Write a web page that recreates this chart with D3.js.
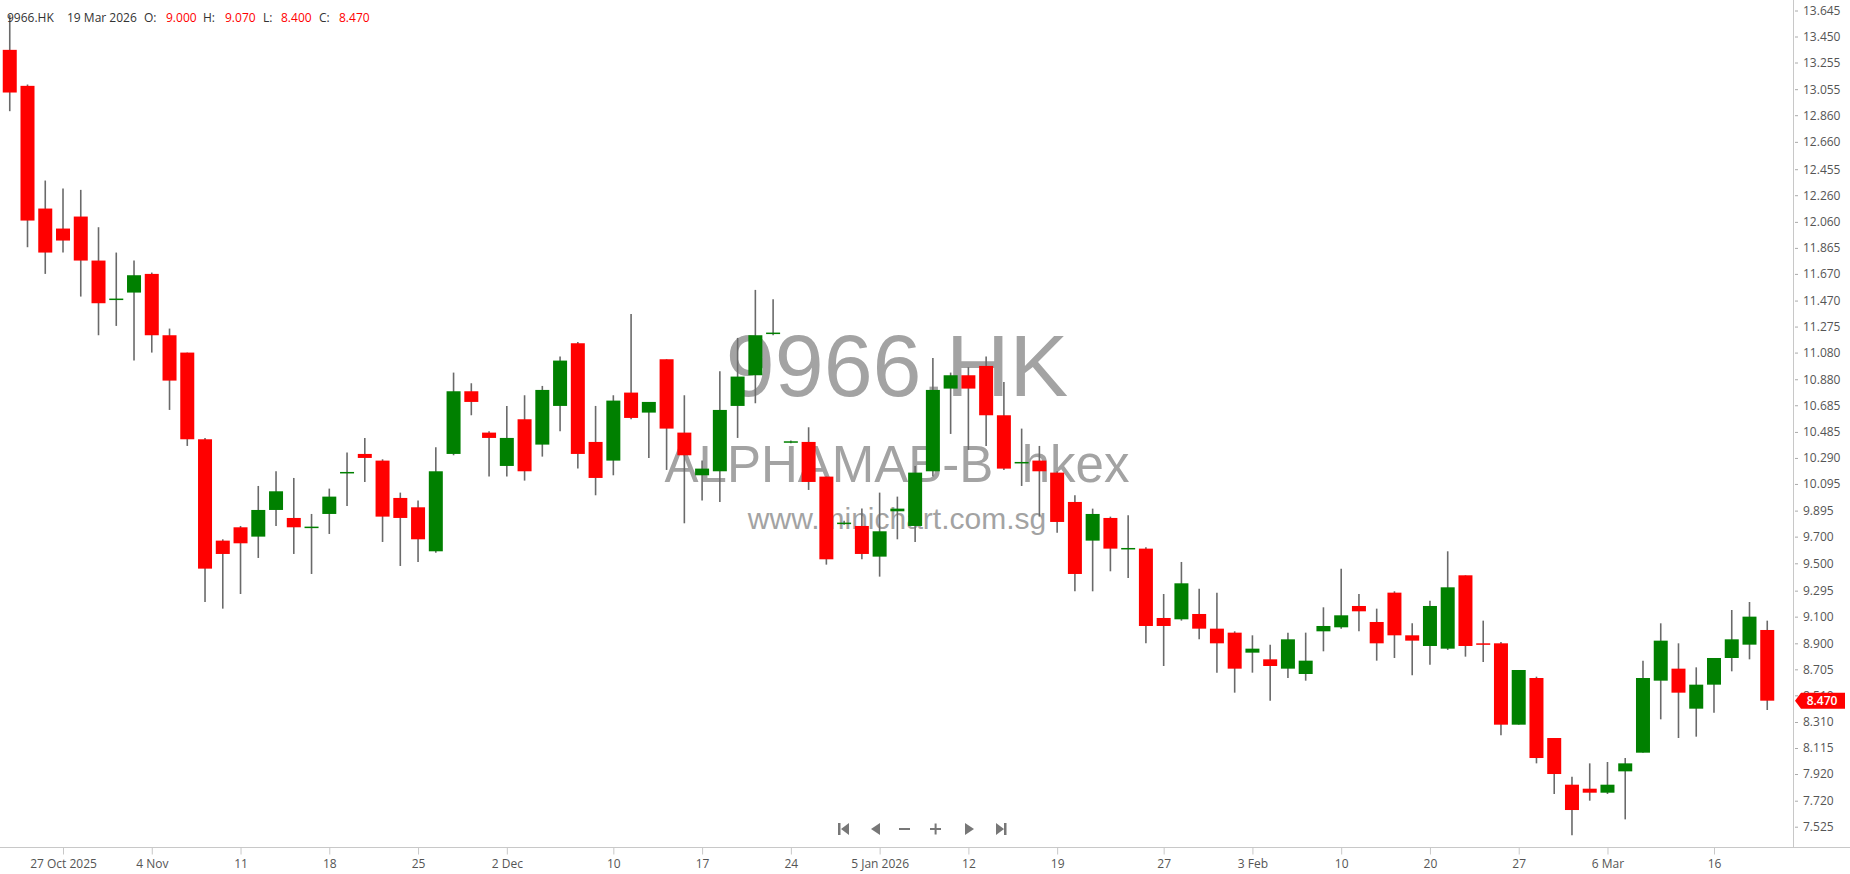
<!DOCTYPE html>
<html lang="en">
<head>
<meta charset="utf-8">
<title>9966.HK</title>
<script src="https://cdn.jsdelivr.net/npm/d3@7"></script>
<style>
  body { margin: 0; background: #fff; }
  svg { display: block; font-family: "Open Sans", sans-serif; }
</style>
</head>
<body>
<div id="chart"></div>
<script>
// trading days, 22 Oct 2025 - 19 Mar 2026
var dates = [
  "2025-10-22","2025-10-23","2025-10-24","2025-10-27","2025-10-28","2025-10-30","2025-10-31",
  "2025-11-03","2025-11-04","2025-11-05","2025-11-06","2025-11-07","2025-11-10","2025-11-11",
  "2025-11-12","2025-11-13","2025-11-14","2025-11-17","2025-11-18","2025-11-19","2025-11-20",
  "2025-11-21","2025-11-24","2025-11-25","2025-11-26","2025-11-27","2025-11-28",
  "2025-12-01","2025-12-02","2025-12-03","2025-12-04","2025-12-05","2025-12-08","2025-12-09",
  "2025-12-10","2025-12-11","2025-12-12","2025-12-15","2025-12-16","2025-12-17","2025-12-18",
  "2025-12-19","2025-12-22","2025-12-23","2025-12-24","2025-12-29","2025-12-30","2025-12-31",
  "2026-01-02","2026-01-05","2026-01-06","2026-01-07","2026-01-08","2026-01-09","2026-01-12",
  "2026-01-13","2026-01-14","2026-01-15","2026-01-16","2026-01-19","2026-01-20","2026-01-21",
  "2026-01-22","2026-01-23","2026-01-26","2026-01-27","2026-01-28","2026-01-29","2026-01-30",
  "2026-02-02","2026-02-03","2026-02-04","2026-02-05","2026-02-06","2026-02-09","2026-02-10",
  "2026-02-11","2026-02-12","2026-02-13","2026-02-16","2026-02-20","2026-02-23","2026-02-24",
  "2026-02-25","2026-02-26","2026-02-27",
  "2026-03-02","2026-03-03","2026-03-04","2026-03-05","2026-03-06","2026-03-09","2026-03-10",
  "2026-03-11","2026-03-12","2026-03-13","2026-03-16","2026-03-17","2026-03-18","2026-03-19"
];

var open = [
  13.35, 13.08, 12.16, 12.01, 12.10, 11.77, 11.475, 11.53, 11.67, 11.21,
  11.08, 10.43, 9.67, 9.77, 9.70, 9.90, 9.84, 9.765, 9.87, 10.175,
  10.32, 10.27, 9.99, 9.92, 9.59, 10.32, 10.79, 10.48, 10.23, 10.58,
  10.39, 10.68, 11.15, 10.41, 10.27, 10.78, 10.63, 11.03, 10.48, 10.16,
  10.19, 10.68, 10.91, 11.22, 10.41, 10.41, 10.15, 9.80, 9.78, 9.55,
  9.89, 9.78, 10.19, 10.81, 10.91, 10.98, 10.61, 10.255, 10.27, 10.18,
  9.96, 9.67, 9.84, 9.61, 9.61, 9.09, 9.08, 9.12, 9.01, 8.98,
  8.83, 8.78, 8.71, 8.67, 8.99, 9.02, 9.18, 9.06, 9.28, 8.96,
  8.88, 8.86, 9.41, 8.90, 8.90, 8.29, 8.64, 8.19, 7.84, 7.81,
  7.78, 7.94, 8.08, 8.62, 8.71, 8.41, 8.59, 8.79, 8.89, 9.00
];
var high = [
  13.61, 13.09, 12.37, 12.31, 12.30, 12.02, 11.83, 11.77, 11.68, 11.26,
  11.08, 10.44, 9.68, 9.78, 10.08, 10.19, 10.14, 9.87, 10.06, 10.33,
  10.44, 10.28, 10.03, 9.97, 10.37, 10.93, 10.85, 10.49, 10.68, 10.76,
  10.83, 11.05, 11.16, 10.68, 10.76, 11.37, 10.71, 11.03, 10.76, 10.27,
  10.94, 11.19, 11.55, 11.48, 10.42, 10.52, 10.15, 9.82, 9.91, 10.03,
  10.00, 10.23, 11.04, 10.93, 10.97, 11.05, 10.86, 10.51, 10.38, 10.19,
  10.01, 9.91, 9.85, 9.86, 9.62, 9.27, 9.51, 9.31, 9.28, 8.99,
  8.96, 8.89, 8.98, 8.98, 9.17, 9.46, 9.27, 9.16, 9.29, 9.05,
  9.22, 9.59, 9.41, 9.07, 8.91, 8.70, 8.65, 8.19, 7.90, 8.00,
  8.01, 8.04, 8.77, 9.05, 8.90, 8.72, 8.79, 9.15, 9.21, 9.07
];
var low = [
  12.89, 11.87, 11.67, 11.83, 11.50, 11.21, 11.28, 11.02, 11.08, 10.65,
  10.38, 9.21, 9.16, 9.27, 9.54, 9.78, 9.57, 9.42, 9.72, 9.93,
  10.11, 9.66, 9.48, 9.51, 9.58, 10.31, 10.61, 10.15, 10.15, 10.12,
  10.30, 10.49, 10.21, 10.01, 10.16, 10.58, 10.29, 10.20, 9.80, 9.97,
  9.96, 10.44, 10.70, 11.21, 10.40, 10.05, 9.49, 9.79, 9.53, 9.40,
  9.68, 9.66, 10.15, 10.47, 10.35, 10.38, 10.20, 10.08, 9.85, 9.73,
  9.29, 9.29, 9.44, 9.39, 8.90, 8.73, 9.07, 8.93, 8.68, 8.53,
  8.68, 8.47, 8.64, 8.62, 8.84, 9.01, 8.99, 8.77, 8.79, 8.66,
  8.74, 8.85, 8.80, 8.76, 8.21, 8.29, 8.00, 7.77, 7.46, 7.72,
  7.77, 7.58, 8.08, 8.33, 8.19, 8.20, 8.38, 8.69, 8.78, 8.40
];
var close = [
  13.03, 12.07, 11.83, 11.92, 11.77, 11.45, 11.485, 11.66, 11.21, 10.87,
  10.43, 9.46, 9.57, 9.65, 9.90, 10.04, 9.77, 9.775, 10.00, 10.185,
  10.29, 9.85, 9.84, 9.68, 10.19, 10.79, 10.71, 10.44, 10.44, 10.19,
  10.80, 11.02, 10.32, 10.14, 10.72, 10.59, 10.71, 10.51, 10.31, 10.21,
  10.65, 10.90, 11.21, 11.23, 10.415, 10.11, 9.53, 9.805, 9.57, 9.74,
  9.91, 10.18, 10.80, 10.91, 10.81, 10.61, 10.21, 10.26, 10.19, 9.81,
  9.42, 9.87, 9.61, 9.615, 9.03, 9.03, 9.35, 9.01, 8.90, 8.71,
  8.86, 8.73, 8.93, 8.77, 9.03, 9.11, 9.14, 8.90, 8.96, 8.92,
  9.18, 9.32, 8.88, 8.895, 8.29, 8.70, 8.04, 7.92, 7.65, 7.78,
  7.84, 8.00, 8.64, 8.92, 8.53, 8.59, 8.79, 8.93, 9.10, 8.47
];

var xTickDates = ["2025-10-27","2025-11-04","2025-11-11","2025-11-18","2025-11-25","2025-12-02",
  "2025-12-10","2025-12-17","2025-12-24","2026-01-05","2026-01-12","2026-01-19","2026-01-27",
  "2026-02-03","2026-02-10","2026-02-20","2026-02-27","2026-03-06","2026-03-16"];
var xTickLabels = ["27 Oct 2025","4 Nov","11","18","25","2 Dec","10","17","24","5 Jan 2026",
  "12","19","27","3 Feb","10","20","27","6 Mar","16"];

var yTicks = [13.645, 13.450, 13.255, 13.055, 12.860, 12.660, 12.455, 12.260, 12.060, 11.865,
  11.670, 11.470, 11.275, 11.080, 10.880, 10.685, 10.485, 10.290, 10.095, 9.895, 9.700,
  9.500, 9.295, 9.100, 8.900, 8.705, 8.510, 8.310, 8.115, 7.920, 7.720, 7.525];

var W = 1850, H = 874,
    plotRight = 1793.5, plotBottom = 847.5;

var svg = d3.select("#chart").append("svg")
    .attr("width", W)
    .attr("height", H);

var x = d3.scalePoint()
    .domain(dates)
    .range([9.75, 1767.25]);
var y = d3.scaleLinear()
    .domain([7.525, 13.645])
    .range([826.7, 10.5]);

// watermark
var wm = svg.append("g")
    .style("font-family", "'Liberation Sans', Arial, sans-serif")
    .attr("fill", "#a3a3a3")
    .attr("text-anchor", "middle");
wm.append("text").attr("x", 897).attr("y", 396).style("font-size", "88px").text("9966.HK");
wm.append("text").attr("x", 897).attr("y", 482).style("font-size", "51px")
    .style("white-space", "pre").text("ALPHAMAB-B  hkex");
wm.append("text").attr("x", 897).attr("y", 529).style("font-size", "30px").text("www.minichart.com.sg");

// frame lines
svg.append("line")
    .attr("x1", plotRight).attr("x2", plotRight)
    .attr("y1", 0).attr("y2", plotBottom)
    .attr("stroke", "#c8c8c8");
svg.append("line")
    .attr("x1", 0).attr("x2", W)
    .attr("y1", plotBottom).attr("y2", plotBottom)
    .attr("stroke", "#c8c8c8");

// candles
var idx = d3.range(dates.length);
var candles = svg.append("g");
candles.selectAll("line.wick")
    .data(idx)
    .enter()
    .append("line")
    .attr("class", "wick")
    .attr("x1", function(i) { return x(dates[i]); })
    .attr("x2", function(i) { return x(dates[i]); })
    .attr("y1", function(i) { return y(high[i]); })
    .attr("y2", function(i) { return y(low[i]); })
    .attr("stroke", "#6a6a6a")
    .attr("stroke-width", 1.6);

var bw = 14;
candles.selectAll("rect.body")
    .data(idx)
    .enter()
    .append("rect")
    .attr("class", "body")
    .attr("x", function(i) { return x(dates[i]) - bw / 2; })
    .attr("width", bw)
    .attr("y", function(i) { return y(Math.max(open[i], close[i])); })
    .attr("height", function(i) { return Math.max(1.5, Math.abs(y(open[i]) - y(close[i]))); })
    .attr("fill", function(i) { return close[i] >= open[i] ? "#008000" : "#ff0000"; });

// y axis
var yAxis = svg.append("g")
    .attr("transform", "translate(1795,0)")
    .call(d3.axisRight(y).tickValues(yTicks).tickFormat(d3.format(".3f")).tickSize(3).tickPadding(5));
yAxis.select(".domain").remove();
yAxis.selectAll("line").attr("stroke", "#aaa");
yAxis.selectAll("text").attr("fill", "#555").style("font-size", "12px").style("font-family", "'Open Sans', sans-serif");

// x axis
var xAxis = svg.append("g")
    .attr("transform", "translate(0," + plotBottom + ")")
    .call(d3.axisBottom(x).tickValues(xTickDates)
        .tickFormat(function(d, i) { return xTickLabels[i]; })
        .tickSize(7).tickPadding(5));
xAxis.select(".domain").remove();
xAxis.selectAll("line").attr("stroke", "#c8c8c8");
xAxis.selectAll("text").attr("fill", "#555").style("font-size", "12px").style("font-family", "'Open Sans', sans-serif");

// last price tag
var last = close[close.length - 1],
    ty = y(last);
svg.append("path")
    .attr("d", "M1795," + ty + "L1801," + (ty - 8) + "H1845V" + (ty + 8) + "H1801Z")
    .attr("fill", "#ff0000");
svg.append("text")
    .attr("x", 1822).attr("y", ty)
    .attr("dy", "0.35em")
    .attr("text-anchor", "middle")
    .attr("fill", "#fff")
    .style("font-size", "12px")
    .style("font-weight", "600")
    .text(d3.format(".3f")(last));

// header
var n = dates.length - 1;
var hdr = [
  ["9966.HK", "#333", 7], ["19 Mar 2026", "#333", 67],
  ["O:", "#333", 144], [d3.format(".3f")(open[n]), "#ff0000", 166],
  ["H:", "#333", 203], [d3.format(".3f")(high[n]), "#ff0000", 225],
  ["L:", "#333", 263], [d3.format(".3f")(low[n]), "#ff0000", 281],
  ["C:", "#333", 319], [d3.format(".3f")(close[n]), "#ff0000", 339]
];
svg.append("g").selectAll("text")
    .data(hdr)
    .enter()
    .append("text")
    .attr("x", function(d) { return d[2]; })
    .attr("y", 22)
    .attr("fill", function(d) { return d[1]; })
    .style("font-size", "12px")
    .text(function(d) { return d[0]; });

// navigation buttons
var nav = svg.append("g").attr("fill", "#777");
var ny = 829;
nav.append("path").attr("d", "M838," + (ny-6) + "h2.5v12h-2.5Z M849," + (ny-6) + "v12l-8,-6Z");
nav.append("path").attr("d", "M880," + (ny-6) + "v12l-9,-6Z");
nav.append("rect").attr("x", 899).attr("y", ny - 1).attr("width", 11).attr("height", 2);
nav.append("path").attr("d", "M930," + (ny-1) + "h11v2h-11Z M934.6," + (ny-5.5) + "h2v11h-2Z");
nav.append("path").attr("d", "M965," + (ny-6) + "v12l9,-6Z");
nav.append("path").attr("d", "M996," + (ny-6) + "v12l8,-6Z M1004," + (ny-6) + "h2.5v12h-2.5Z");
</script>
</body>
</html>
